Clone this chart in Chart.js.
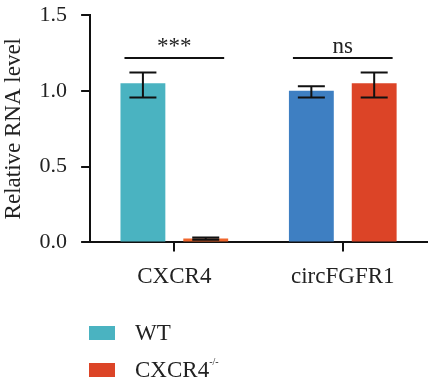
<!DOCTYPE html>
<html>
<head>
<meta charset="utf-8">
<script src="https://cdn.jsdelivr.net/npm/chart.js@4.4.0/dist/chart.umd.min.js"></script>
<style>
html, body { margin: 0; padding: 0; background: #fff; }
#wrap { position: relative; width: 430px; height: 385px; }
#legend { position: absolute; left: 89px; top: 314px; font-family: 'Liberation Serif', serif; font-size: 23px; color: #222; }
.item { display: flex; align-items: center; height: 37px; }
.box { width: 26px; height: 14px; margin-right: 20px; }
sup { font-size: 10px; vertical-align: top; position: relative; top: -1px; }
</style>
</head>
<body>
<div id="wrap">
  <canvas id="chart" width="430" height="385"></canvas>
  <div id="legend"></div>
</div>
<script>
// data
var categories = ['CXCR4', 'circFGFR1'];
var seriesNames = ['WT', 'CXCR4-/-'];
var wtMean = [1.05, 1.0];
var wtLow = [0.955, 0.955];
var wtHigh = [1.12, 1.03];
var koMean = [0.025, 1.05];
var koLow = [0.017, 0.955];
var koHigh = [0.033, 1.12];
var sigLabels = ['***', 'ns'];
var yTicks = [0, 0.5, 1.0, 1.5];

var wtColors = ['#4ab3c1', '#3e7fc2'];
var koColors = ['#f0662c', '#dc4427'];
var legendColors = ['#4ab3c1', '#dc4427'];
var serif = "'Liberation Serif', 'Times New Roman', serif";

// error bars drawn from the y scale
var errorBars = {
  id: 'errorBars',
  afterDatasetsDraw: function(chart) {
    var ctx = chart.ctx, y = chart.scales.y;
    ctx.save();
    ctx.strokeStyle = '#111';
    ctx.lineWidth = 2;
    chart.data.datasets.forEach(function(ds, i) {
      chart.getDatasetMeta(i).data.forEach(function(bar, j) {
        var top = y.getPixelForValue(ds.errHigh[j]);
        var bot = y.getPixelForValue(ds.errLow[j]);
        var half = 13.5;
        ctx.beginPath();
        ctx.moveTo(bar.x, top); ctx.lineTo(bar.x, bot);
        ctx.moveTo(bar.x - half, top); ctx.lineTo(bar.x + half, top);
        ctx.moveTo(bar.x - half, bot); ctx.lineTo(bar.x + half, bot);
        ctx.stroke();
      });
    });
    ctx.restore();
  }
};

// significance lines above each group
var sigLines = {
  id: 'sigLines',
  afterDatasetsDraw: function(chart) {
    var ctx = chart.ctx, y = chart.scales.y;
    var m0 = chart.getDatasetMeta(0), m1 = chart.getDatasetMeta(1);
    var ly = Math.round(y.getPixelForValue(1.215));
    ctx.save();
    ctx.strokeStyle = '#111';
    ctx.fillStyle = '#222';
    ctx.lineWidth = 2;
    ctx.font = '23px ' + serif;
    ctx.textAlign = 'center';
    ctx.textBaseline = 'alphabetic';
    sigLabels.forEach(function(lab, j) {
      var a = m0.data[j], b = m1.data[j];
      var x1 = a.x - a.width / 2 + 4, x2 = b.x + b.width / 2 - 4;
      ctx.beginPath();
      ctx.moveTo(x1, ly); ctx.lineTo(x2, ly);
      ctx.stroke();
      ctx.fillText(lab, (x1 + x2) / 2, ly - 5);
    });
    ctx.restore();
  }
};

var chart = new Chart(document.getElementById('chart'), {
  type: 'bar',
  data: {
    labels: categories,
    datasets: [
      { label: seriesNames[0], data: wtMean, errLow: wtLow, errHigh: wtHigh, backgroundColor: wtColors },
      { label: seriesNames[1], data: koMean, errLow: koLow, errHigh: koHigh, backgroundColor: koColors }
    ]
  },
  options: {
    responsive: false,
    animation: false,
    categoryPercentage: 0.746,
    barPercentage: 0.714,
    layout: { padding: { top: 15, right: 3, bottom: 82, left: 0 } },
    plugins: { legend: { display: false }, tooltip: { enabled: false } },
    scales: {
      x: {
        grid: { display: true, drawOnChartArea: false, offset: false, tickLength: 9, color: '#111', lineWidth: 2 },
        border: { color: '#111', width: 2 },
        ticks: { color: '#222', padding: 12, font: { family: serif, size: 23 } }
      },
      y: {
        min: 0, max: 1.5,
        afterBuildTicks: function(axis) { axis.ticks = yTicks.map(function(v) { return { value: v }; }); },
        afterFit: function(axis) { axis.paddingTop = 0; axis.paddingBottom = 0; },
        grid: { display: true, drawOnChartArea: false, tickLength: 9, color: '#111', lineWidth: 2 },
        border: { color: '#111', width: 2 },
        ticks: { color: '#222', padding: 14, font: { family: serif, size: 22 },
          callback: function(v) { return Number(v).toFixed(1); } },
        title: { display: true, text: 'Relative RNA level', color: '#222',
          font: { family: serif, size: 23 }, padding: { top: 0, bottom: -2 } }
      }
    }
  },
  plugins: [errorBars, sigLines]
});

// legend stacked under the plot
var legend = document.getElementById('legend');
chart.data.datasets.forEach(function(ds, i) {
  var item = document.createElement('div');
  item.className = 'item';
  var box = document.createElement('span');
  box.className = 'box';
  box.style.background = legendColors[i];
  var txt = document.createElement('span');
  var m = ds.label.match(/^(.*?)(-\/-)$/);
  if (m) {
    txt.textContent = m[1];
    var sup = document.createElement('sup');
    sup.textContent = m[2];
    txt.appendChild(sup);
  } else {
    txt.textContent = ds.label;
  }
  item.appendChild(box);
  item.appendChild(txt);
  legend.appendChild(item);
});
</script>
</body>
</html>
